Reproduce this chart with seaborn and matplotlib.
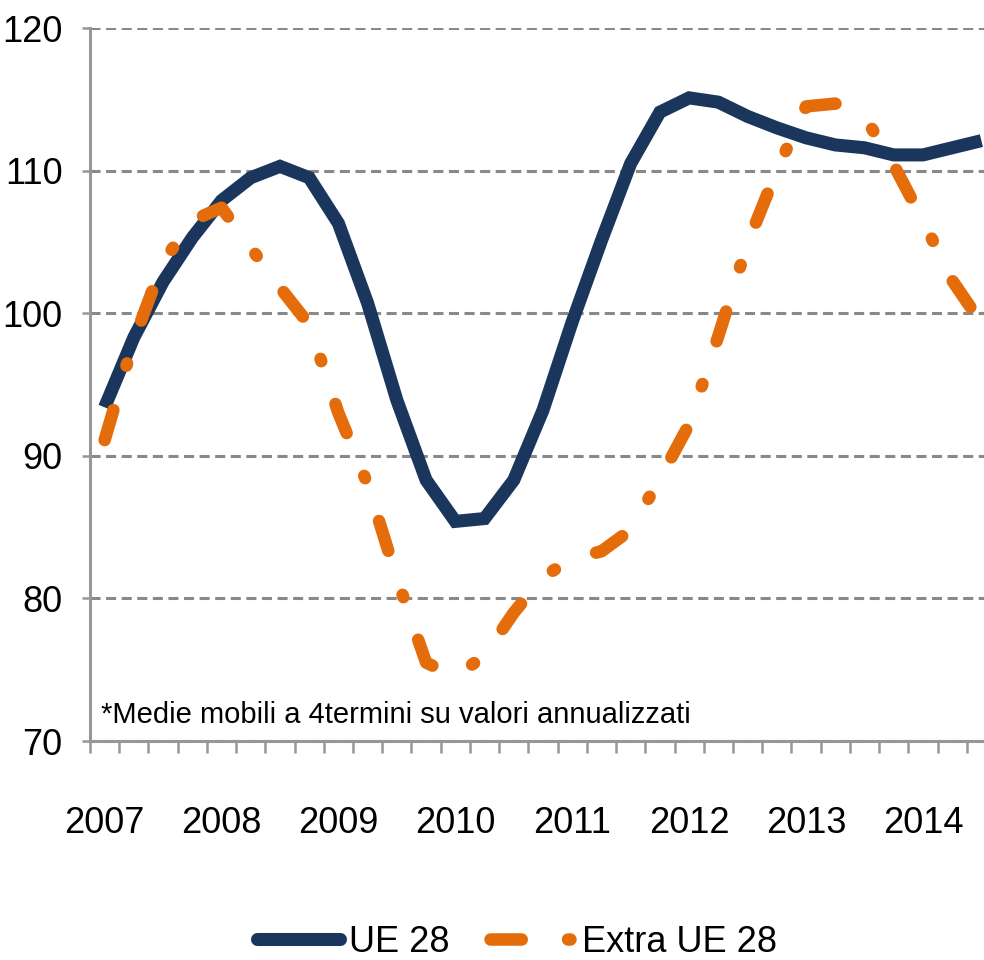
import matplotlib
matplotlib.use("Agg")
import numpy as np
import pandas as pd
import matplotlib.pyplot as plt
from matplotlib import font_manager
from matplotlib.ticker import FixedLocator
import seaborn as sns

# Quarterly periods 2007 Q1 .. 2014 Q3, one label per year
years = [2007, 2008, 2009, 2010, 2011, 2012, 2013, 2014]
n_quarters = 31

# Index values (4-term moving averages on annualised values)
ue28 = [93.4, 98.3, 102.2, 105.3, 107.9, 109.5, 110.3, 109.5,
        106.3, 100.7, 93.9, 88.3, 85.4, 85.6, 88.3, 93.2,
        99.4, 105.1, 110.5, 114.1, 115.1, 114.8, 113.8, 113.0,
        112.3, 111.8, 111.6, 111.1, 111.1, 111.6, 112.1]
extra_ue28 = [91.1, 98.1, 103.6, 106.5, 107.4, 104.6, 101.8, 99.2,
              93.0, 88.0, 81.4, 75.5, 74.5, 76.0, 79.0, 81.5,
              82.8, 83.3, 84.8, 88.4, 92.2, 98.4, 104.9, 110.0,
              114.5, 114.7, 113.8, 110.4, 106.5, 102.3, 99.3]
series_names = ["UE 28", "Extra UE 28"]
y_ticks = [70, 80, 90, 100, 110, 120]
note = "*Medie mobili a 4termini su valori annualizzati"

periods = np.arange(n_quarters)
df = pd.DataFrame({
    "periodo": np.concatenate([periods, periods]),
    "serie": [series_names[0]] * n_quarters + [series_names[1]] * n_quarters,
    "valore": ue28 + extra_ue28,
})

sns.set_theme(style="white")


def pick_font(candidates):
    for name in candidates:
        try:
            font_manager.findfont(font_manager.FontProperties(family=name),
                                  fallback_to_default=False)
            return name
        except ValueError:
            continue
    return "DejaVu Sans"


narrow = pick_font(["Liberation Sans Narrow", "DejaVu Sans Condensed", "Liberation Sans"])
plt.rcParams["font.family"] = [narrow, "DejaVu Sans"]
plt.rcParams["text.color"] = "black"

NAVY = "#1B365D"
ORANGE = "#E46C0A"
GRID = "#898989"
AXIS = "#979797"
LABEL_SIZE = 26

fig = plt.figure(figsize=(9.84, 9.6), dpi=100)
ax = fig.add_axes([90 / 984, 1 - 741 / 960, 906 / 984, 713 / 960])

sns.lineplot(data=df[df["serie"] == series_names[0]], x="periodo", y="valore",
             color=NAVY, linewidth=9.4, solid_joinstyle="miter",
             solid_capstyle="butt", label=series_names[0], ax=ax, zorder=3)
sns.lineplot(data=df[df["serie"] == series_names[1]], x="periodo", y="valore",
             color=ORANGE, linewidth=9.0, linestyle=(0, (2.5, 3.7, 0.2, 3.6)),
             dash_capstyle="round", label=series_names[1], ax=ax, zorder=4)

ax.set_xlim(-0.5, n_quarters - 0.5)
ax.set_ylim(70, 120)
ax.set_xlabel("")
ax.set_ylabel("")

# Y axis: gridlines and outward ticks
ax.set_yticks(y_ticks)
ax.set_yticklabels([str(v) for v in y_ticks])
ax.yaxis.grid(True, color=GRID, linestyle=(0, (3.3, 1.8)), linewidth=2.2)
ax.xaxis.grid(False)
ax.set_axisbelow(True)
ax.tick_params(axis="y", which="major", direction="out", length=5.8, width=1.8,
               color=AXIS, pad=14, labelsize=LABEL_SIZE, labelcolor="black", left=True)

# X axis: quarter boundary ticks, year labels under the first quarter
ax.xaxis.set_major_locator(FixedLocator(list(range(0, n_quarters, 4))))
ax.set_xticklabels([str(y) for y in years])
ax.xaxis.set_minor_locator(FixedLocator(list(np.arange(-0.5, n_quarters, 1.0))))
ax.tick_params(axis="x", which="major", length=0, pad=47, labelsize=LABEL_SIZE,
               labelcolor="black", bottom=True)
ax.tick_params(axis="x", which="minor", direction="out", length=8.6, width=1.8,
               color=AXIS, bottom=True)

for side in ("top", "right"):
    ax.spines[side].set_visible(False)
for side in ("left", "bottom"):
    ax.spines[side].set_color(AXIS)
    ax.spines[side].set_linewidth(2.2)

ax.text(11 / 906, 18 / 713, note, transform=ax.transAxes, fontsize=21,
        family=["Liberation Sans", "DejaVu Sans"], va="baseline", ha="left",
        color="black", zorder=5)

handles, labels = ax.get_legend_handles_labels()
if ax.get_legend() is not None:
    ax.get_legend().remove()
leg = fig.legend(handles, labels, loc="center", bbox_to_anchor=(517 / 984, 1 - 942 / 960),
                 ncol=2, frameon=False, handlelength=2.3, handletextpad=0.25,
                 columnspacing=1.1, fontsize=LABEL_SIZE)
for txt in leg.get_texts():
    txt.set_color("black")
leg.legend_handles[0].set_solid_capstyle("round")

fig.savefig("out.png", dpi=100)
